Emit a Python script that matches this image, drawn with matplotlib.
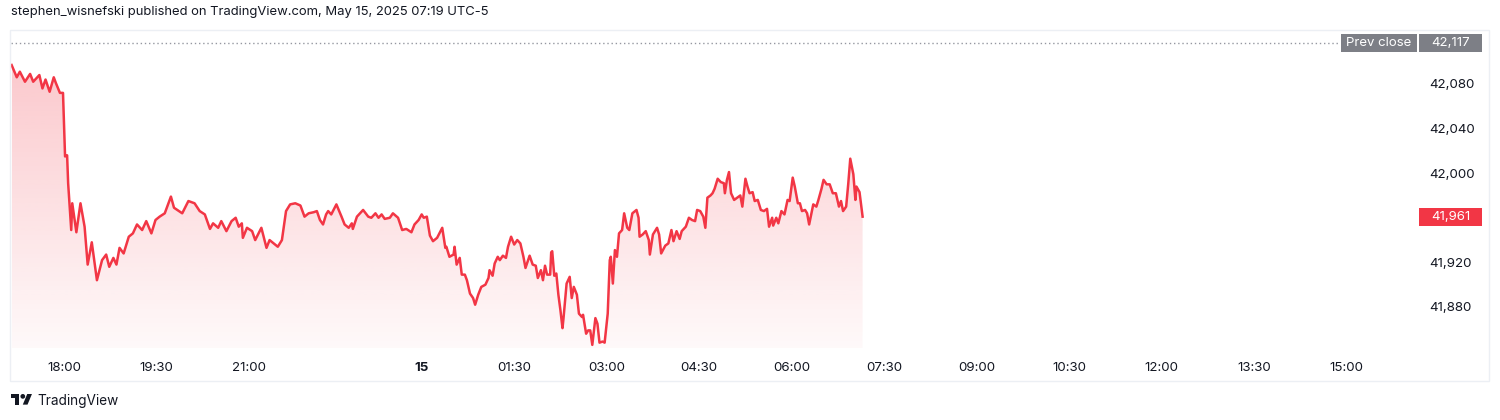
"""DJIA futures intraday area chart, TradingView style (May 14-15, 2025)."""

import matplotlib
matplotlib.use("Agg")
import matplotlib.pyplot as plt
import matplotlib.patches as mpatches
from matplotlib.transforms import IdentityTransform
import numpy as np

plt.rcParams["font.family"] = ["Inter", "DejaVu Sans"]

W, H = 1500, 420
TEXT = "#131722"
RED = "#f23645"

# x = bar index in minutes since 17:00 (axis compresses a gap late in the evening)
minutes = [
    9, 14, 17, 22, 27, 30, 36, 39, 42, 46, 50, 52, 56, 59, 61, 63, 64, 67, 68, 72,
    76, 80, 83, 87, 92, 97, 101, 104, 108, 111, 114, 118, 123, 127, 131, 136, 140, 145, 149, 153,
    158, 164, 167, 175, 181, 187, 192, 197, 202, 205, 210, 213, 218, 223, 227, 230, 233, 234, 238, 243,
    246, 252, 257, 260, 264, 268, 272, 276, 280, 285, 290, 294, 298, 303, 306, 309, 312, 315, 317, 320,
    325, 330, 333, 337, 340, 341, 345, 351, 356, 359, 363, 366, 369, 372, 377, 380, 385, 389, 393, 398,
    401, 405, 408, 410, 413, 416, 419, 423, 428, 431, 432, 435, 439, 440, 442, 445, 447, 450, 452, 455,
    458, 460, 463, 466, 470, 473, 474, 477, 479, 482, 484, 487, 490, 492, 495, 498, 501, 504, 507, 509,
    513, 516, 519, 521, 524, 526, 528, 530, 533, 534, 535, 537, 539, 541, 543, 545, 546, 549, 552, 554,
    556, 559, 561, 564, 565, 568, 570, 572, 574, 577, 579, 581, 584, 586, 589, 591, 592, 594, 596, 598,
    600, 603, 605, 608, 610, 613, 617, 619, 620, 623, 626, 629, 630, 633, 637, 639, 641, 645, 648, 651,
    653, 656, 659, 661, 665, 668, 671, 674, 676, 679, 682, 684, 686, 689, 691, 693, 696, 699, 702, 703,
    705, 707, 709, 712, 715, 718, 720, 723, 725, 727, 730, 732, 735, 738, 741, 744, 746, 749, 750, 753,
    755, 758, 761, 764, 766, 769, 771, 774, 776, 778, 781, 783, 785, 789, 792, 794, 797, 799, 802, 805,
    808, 811, 814, 816, 818, 821, 823, 825, 828, 830, 831, 834, 837,
]
prices = [
    42097, 42086, 42091, 42082, 42089, 42082, 42088, 42076, 42084, 42073, 42086, 42081, 42072, 42072, 42015, 42016, 41991, 41949, 41973, 41947,
    41973, 41952, 41918, 41938, 41904, 41922, 41927, 41916, 41924, 41918, 41933, 41928, 41943, 41946, 41954, 41949, 41957, 41946, 41958, 41961,
    41964, 41979, 41969, 41964, 41975, 41973, 41966, 41963, 41950, 41955, 41951, 41957, 41948, 41957, 41960, 41952, 41955, 41942, 41951, 41948,
    41940, 41951, 41933, 41940, 41937, 41934, 41940, 41966, 41972, 41973, 41971, 41961, 41964, 41965, 41966, 41958, 41954, 41963, 41966, 41963,
    41972, 41961, 41954, 41951, 41955, 41950, 41961, 41967, 41961, 41960, 41964, 41960, 41963, 41959, 41960, 41964, 41960, 41949, 41950, 41947,
    41954, 41958, 41963, 41960, 41961, 41944, 41939, 41942, 41951, 41933, 41934, 41925, 41927, 41934, 41918, 41924, 41909, 41909, 41904, 41892,
    41888, 41882, 41891, 41898, 41900, 41906, 41913, 41908, 41919, 41925, 41922, 41926, 41924, 41934, 41943, 41936, 41940, 41937, 41925, 41915,
    41926, 41918, 41917, 41906, 41913, 41904, 41917, 41909, 41909, 41929, 41930, 41908, 41910, 41891, 41877, 41861, 41870, 41901, 41907, 41888,
    41898, 41891, 41874, 41871, 41873, 41856, 41859, 41859, 41846, 41870, 41865, 41848, 41849, 41848, 41874, 41922, 41925, 41901, 41931, 41925,
    41946, 41949, 41964, 41951, 41949, 41964, 41967, 41960, 41943, 41945, 41948, 41940, 41927, 41945, 41951, 41945, 41928, 41935, 41937, 41949,
    41939, 41948, 41941, 41948, 41952, 41960, 41958, 41957, 41967, 41966, 41961, 41951, 41978, 41980, 41982, 41986, 41995, 41992, 41991, 41982,
    41994, 42001, 41982, 41976, 41978, 41980, 41970, 41995, 41988, 41982, 41983, 41975, 41976, 41967, 41966, 41968, 41952, 41960, 41953, 41960,
    41955, 41966, 41963, 41976, 41975, 41996, 41988, 41973, 41973, 41966, 41967, 41964, 41954, 41972, 41970, 41976, 41986, 41994, 41990, 41990,
    41982, 41982, 41970, 41975, 41966, 41970, 41990, 42013, 41999, 41976, 41988, 41983, 41961,
]

prev_close = 42117
last_price = 41961

tick_minutes = [60, 150, 240, 408, 498, 588, 678, 768, 858, 948, 1038, 1128, 1218, 1308]
tick_labels = ["18:00", "19:30", "21:00", "15", "01:30", "03:00", "04:30", "06:00",
               "07:30", "09:00", "10:30", "12:00", "13:30", "15:00"]
price_ticks = [41880, 41920, 42000, 42040, 42080]

title = "stephen_wisnefski published on TradingView.com, May 15, 2025 07:19 UTC-5"


def fpx(x, y):
    """image pixel (top-left origin) -> figure fraction"""
    return x / W, 1 - y / H


fig = plt.figure(figsize=(W / 100, H / 100), dpi=100)
fig.patch.set_facecolor("white")

# outer frame
fig.patches.append(mpatches.Rectangle(fpx(10, 381), 1479 / W, 351 / H,
                                      transform=fig.transFigure, fill=False,
                                      edgecolor="#eceff4", lw=1))

l, b = fpx(11, 348)
ax = fig.add_axes([l, b, 1407 / W, 318 / H])
ax.set_facecolor("none")
for s in ax.spines.values():
    s.set_visible(False)

x0, x1 = 8.4, 1377.4
y0, y1 = 41843.2, 42128.4
ax.set_xlim(x0, x1)
ax.set_ylim(y0, y1)

# gradient area under the line
x = np.array(minutes, dtype=float)
y = np.array(prices, dtype=float)
poly = ax.fill_between(x, y, y0, color="none", lw=0)
top = max(prices)
alpha = np.linspace(0.03, 0.27, 200).reshape(-1, 1)
rgba = np.zeros((200, 1, 4))
rgba[..., 0], rgba[..., 1], rgba[..., 2] = 242 / 255, 54 / 255, 69 / 255
rgba[..., 3] = alpha
img = ax.imshow(rgba, extent=[x.min(), x.max(), y0, top], origin="lower",
                aspect="auto", interpolation="bilinear", zorder=1)
img.set_clip_path(poly.get_paths()[0], transform=ax.transData)

ax.plot(x, y, color=RED, lw=1.8, zorder=3, solid_joinstyle="round")

# previous close
x_lbl = x0 + (1340 - 11) / 1407 * (x1 - x0)
ax.hlines(prev_close, x0, x_lbl, colors="#9598a1", lw=1, linestyles=(0, (1, 2)), zorder=2)

ytr = ax.get_yaxis_transform()
bh = 18 / 1.115


def label_box(xa, xb, yv, color, txt):
    fa = (xa - 11) / 1407
    fb = (xb - 11) / 1407
    ax.add_patch(mpatches.Rectangle((fa, yv - bh / 2), fb - fa, bh, transform=ytr,
                                    facecolor=color, edgecolor="none", clip_on=False, zorder=5))
    ax.text((fa + fb) / 2, yv, txt, transform=ytr, ha="center", va="center",
            color="white", fontsize=9.5, clip_on=False, zorder=6)


label_box(1341, 1417, prev_close, "#7d7f86", "Prev close")
label_box(1419, 1482, prev_close, "#7d7f86", "42,117")
label_box(1419, 1482, last_price, RED, f"{last_price:,}")

# axes ticks
ax.yaxis.tick_right()
ax.set_yticks(price_ticks)
ax.set_yticklabels([f"{v:,}" for v in price_ticks])
ax.tick_params(axis="y", length=0, pad=8.2, labelsize=9.6, labelcolor=TEXT)
ax.set_xticks(tick_minutes)
ax.set_xticklabels(tick_labels)
ax.tick_params(axis="x", length=0, pad=10, labelsize=9.6, labelcolor=TEXT)
for t in ax.get_xticklabels():
    if t.get_text() == "15":
        t.set_fontweight("bold")

# header / footer text
tx, ty = fpx(11, 12)
fig.text(tx, ty, title, ha="left", va="center", fontsize=9.4, color=TEXT)
tx, ty = fpx(37, 401)
fig.text(tx, ty, "TradingView", ha="left", va="center", fontsize=9.8, color=TEXT)


# TradingView logo (36x28 unit mark)
def lp(u, v):
    return (11 + u * 0.59, H - (394 + (v - 4) * 0.59))


ident = IdentityTransform()
fig.patches.append(mpatches.Polygon([lp(14, 22), lp(7, 22), lp(7, 11), lp(0, 11), lp(0, 4), lp(14, 4)],
                                    closed=True, facecolor=TEXT, edgecolor="none", transform=ident))
fig.patches.append(mpatches.Circle(lp(20, 8), 4 * 0.59, facecolor=TEXT, edgecolor="none", transform=ident))
fig.patches.append(mpatches.Polygon([lp(28, 22), lp(20, 22), lp(27.5, 4), lp(35.5, 4)],
                                    closed=True, facecolor=TEXT, edgecolor="none", transform=ident))

fig.savefig("out.png", dpi=100)
plt.close(fig)
